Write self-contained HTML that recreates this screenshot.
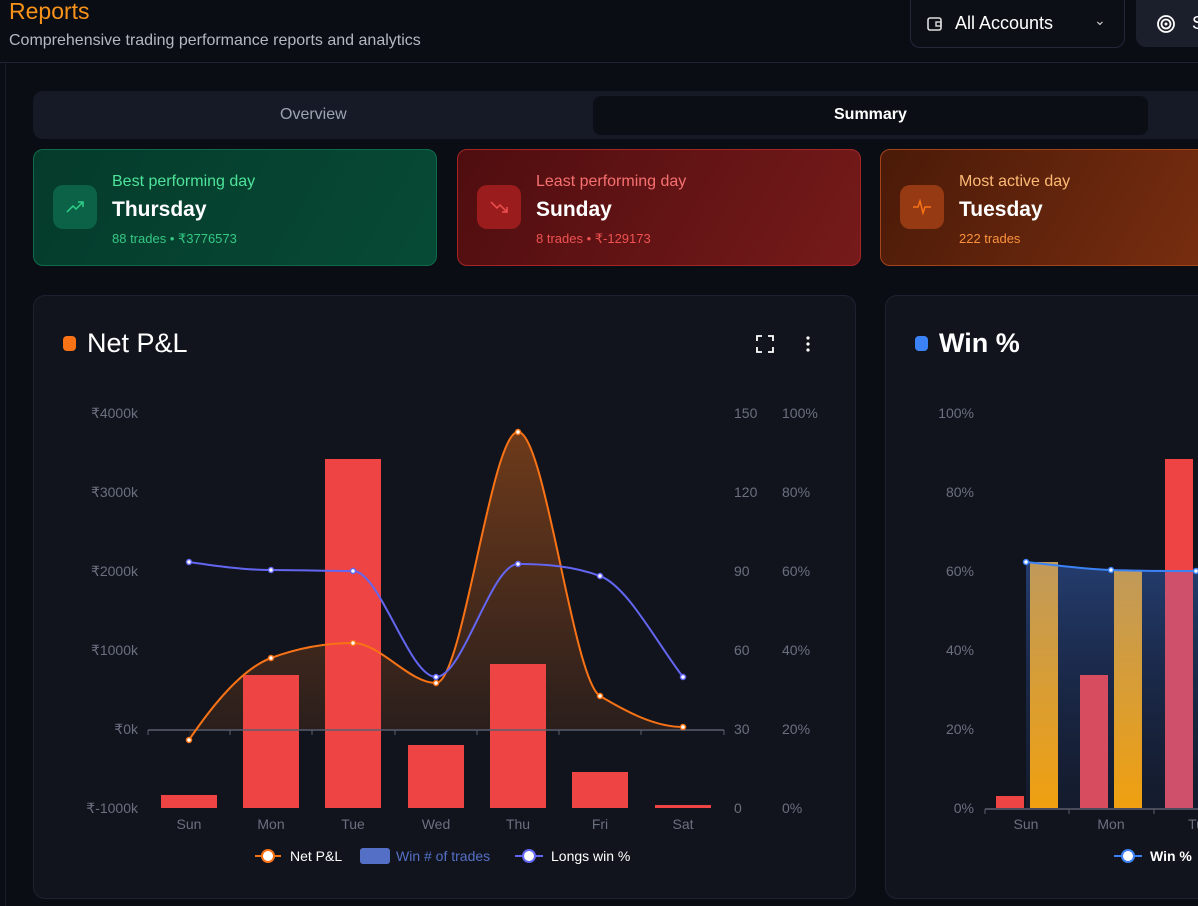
<!DOCTYPE html>
<html><head><meta charset="utf-8"><style>
*{margin:0;padding:0;box-sizing:border-box}
body{width:1198px;height:906px;background:#0b0d14;font-family:"Liberation Sans",sans-serif;overflow:hidden;position:relative;color:#fff}
.abs{position:absolute}
.card{position:absolute;top:149px;height:117px;border-radius:10px;}
.card .ic{position:absolute;left:19px;top:35px;width:44px;height:44px;border-radius:10px}
.card .t1{position:absolute;left:78px;top:23px;font-size:16px}
.card .t2{position:absolute;left:78px;top:48px;font-size:21px;font-weight:bold;color:#fff}
.card .t3{position:absolute;left:78px;top:81px;font-size:13px}
.panel{position:absolute;top:295px;height:604px;background:#11141d;border:1px solid #1e2230;border-radius:12px}
</style></head><body>
<div class="abs" style="left:9px;top:-2px;font-size:23px;color:#f7931a">Reports</div>
<div class="abs" style="left:9px;top:32px;font-size:16px;color:#b4b8c2">Comprehensive trading performance reports and analytics</div>
<div class="abs" style="left:910px;top:0;width:215px;height:48px;border:1px solid #23273a;border-top:none;border-radius:0 0 10px 10px;background:#0d0f17"></div>
<svg class="abs" style="left:926px;top:15px" width="18" height="18" viewBox="0 0 18 18"><rect x="2" y="3" width="13" height="12" rx="2" fill="none" stroke="#ddd" stroke-width="1.6"/><rect x="10" y="7" width="5" height="4" fill="none" stroke="#ddd" stroke-width="1.4"/></svg>
<div class="abs" style="left:955px;top:13px;font-size:18px;color:#fff">All Accounts</div>
<div class="abs" style="left:1094px;top:12px;font-size:14px;color:#ccc">&#8964;</div>
<div class="abs" style="left:1136px;top:0;width:70px;height:47px;border-radius:0 0 0 10px;background:#1b1f2b"></div>
<svg class="abs" style="left:1156px;top:14px" width="20" height="20"><circle cx="10" cy="10" r="8" fill="none" stroke="#fff" stroke-width="1.8"/><circle cx="10" cy="10" r="4.5" fill="none" stroke="#fff" stroke-width="1.8"/><circle cx="10" cy="10" r="1.5" fill="#fff"/></svg>
<div class="abs" style="left:1192px;top:13px;font-size:18px">S</div>
<div class="abs" style="left:0;top:62px;width:1198px;height:1px;background:#1f2332"></div>
<div class="abs" style="left:5px;top:63px;width:1px;height:843px;background:#1a1d29"></div>

<div class="abs" style="left:33px;top:91px;width:1180px;height:48px;background:#161a26;border-radius:10px"></div>
<div class="abs" style="left:593px;top:96px;width:555px;height:39px;background:#0c0e15;border-radius:8px"></div>
<div class="abs" style="left:280px;top:106px;font-size:16px;color:#9ca3b4">Overview</div>
<div class="abs" style="left:834px;top:106px;font-size:16px;color:#fff;font-weight:bold">Summary</div>

<div class="card" style="left:33px;width:404px;background:linear-gradient(120deg,#053b2b,#064a35);border:1px solid #0f6a4a">
<div class="ic" style="background:#0b6247"></div>
<svg class="abs" style="left:31px;top:47px" width="20" height="20"><polyline points="2,15 8,9 11,12 18,5" fill="none" stroke="#2fd08a" stroke-width="1.5"/><polyline points="13,5 18,5 18,10" fill="none" stroke="#2fd08a" stroke-width="1.5"/></svg>
<div class="t1" style="color:#4ee39a">Best performing day</div><div class="t2">Thursday</div><div class="t3" style="color:#35c985">88 trades • ₹3776573</div></div>
<div class="card" style="left:457px;width:404px;background:linear-gradient(120deg,#4f0d0f,#761a1a);border:1px solid #a32525">
<div class="ic" style="background:#9a1c1c"></div>
<svg class="abs" style="left:31px;top:47px" width="20" height="20"><polyline points="2,5 8,11 11,8 18,15" fill="none" stroke="#f05050" stroke-width="1.5"/><polyline points="13,15 18,15 18,10" fill="none" stroke="#f05050" stroke-width="1.5"/></svg>
<div class="t1" style="color:#f87171">Least performing day</div><div class="t2">Sunday</div><div class="t3" style="color:#f05252">8 trades • ₹-129173</div></div>
<div class="card" style="left:880px;width:340px;background:linear-gradient(120deg,#4a1a08,#7a2e10);border:1px solid #a3441a">
<div class="ic" style="background:#963a14"></div>
<svg class="abs" style="left:31px;top:47px" width="20" height="20"><polyline points="1,10 6,10 8,4 11,16 13,10 19,10" fill="none" stroke="#f97316" stroke-width="1.5"/></svg>
<div class="t1" style="color:#fdba74">Most active day</div><div class="t2">Tuesday</div><div class="t3" style="color:#fb923c">222 trades</div></div>

<div class="panel" style="left:33px;width:823px"></div>
<div class="panel" style="left:885px;width:340px"></div>
<div class="abs" style="left:63px;top:336px;width:13px;height:15px;border-radius:4px;background:#f97316"></div>
<div class="abs" style="left:87px;top:328px;font-size:27px;color:#fff">Net P&amp;L</div>
<div class="abs" style="left:915px;top:336px;width:13px;height:15px;border-radius:4px;background:#3b82f6"></div>
<div class="abs" style="left:939px;top:328px;font-size:27px;color:#fff;font-weight:bold">Win %</div>
<svg class="abs" style="left:756px;top:335px" width="18" height="18"><path d="M1 6V1H6M12 1H17V6M17 12V17H12M6 17H1V12" fill="none" stroke="#fff" stroke-width="1.8"/></svg>
<svg class="abs" style="left:804px;top:335px" width="8" height="18"><circle cx="4" cy="3" r="1.6" fill="#fff"/><circle cx="4" cy="9" r="1.6" fill="#fff"/><circle cx="4" cy="15" r="1.6" fill="#fff"/></svg>

<svg class="abs" style="left:0;top:0" width="1198" height="906" font-family="Liberation Sans, sans-serif">
<defs>
<linearGradient id="pf" x1="0" y1="0" x2="0" y2="1"><stop offset="0" stop-color="#f97316" stop-opacity="0.4"/><stop offset="1" stop-color="#f97316" stop-opacity="0.1"/></linearGradient>
<linearGradient id="bf" x1="0" y1="0" x2="0" y2="1"><stop offset="0" stop-color="#2a4a8a" stop-opacity="0.75"/><stop offset="1" stop-color="#1a2a50" stop-opacity="0.3"/></linearGradient>
<linearGradient id="of" x1="0" y1="0" x2="0" y2="1"><stop offset="0" stop-color="#c09a5a"/><stop offset="1" stop-color="#f0a010"/></linearGradient>
</defs>
<g font-size="14" fill="#6b7080">
<text x="138" y="418" text-anchor="end">₹4000k</text><text x="138" y="497" text-anchor="end">₹3000k</text><text x="138" y="576" text-anchor="end">₹2000k</text><text x="138" y="655" text-anchor="end">₹1000k</text><text x="138" y="734" text-anchor="end">₹0k</text><text x="138" y="813" text-anchor="end">₹-1000k</text>
<text x="734" y="418">150</text><text x="734" y="497">120</text><text x="734" y="576">90</text><text x="734" y="655">60</text><text x="734" y="734">30</text><text x="734" y="813">0</text>
<text x="782" y="418">100%</text><text x="782" y="497">80%</text><text x="782" y="576">60%</text><text x="782" y="655">40%</text><text x="782" y="734">20%</text><text x="782" y="813">0%</text>
<text x="189" y="829" text-anchor="middle">Sun</text><text x="271" y="829" text-anchor="middle">Mon</text><text x="353" y="829" text-anchor="middle">Tue</text><text x="436" y="829" text-anchor="middle">Wed</text><text x="518" y="829" text-anchor="middle">Thu</text><text x="600" y="829" text-anchor="middle">Fri</text><text x="683" y="829" text-anchor="middle">Sat</text>
<text x="974" y="418" text-anchor="end">100%</text><text x="974" y="497" text-anchor="end">80%</text><text x="974" y="576" text-anchor="end">60%</text><text x="974" y="655" text-anchor="end">40%</text><text x="974" y="734" text-anchor="end">20%</text><text x="974" y="813" text-anchor="end">0%</text>
<text x="1026" y="829" text-anchor="middle">Sun</text><text x="1111" y="829" text-anchor="middle">Mon</text><text x="1196" y="829" text-anchor="middle">Tu</text>
</g>
<path d="M189,740 C216,700 244,668 271,658 C298,648 326,643 353,643 C380,643 409,683 436,683 C463,683 491,432 518,432 C545,432 573,680 600,696 C627,712 655,727 683,727 L683,729 L189,729Z" fill="url(#pf)"/>
<g fill="#ef4444">
<rect x="161" y="795" width="56" height="13"/><rect x="243" y="675" width="56" height="133"/><rect x="325" y="459" width="56" height="349"/><rect x="408" y="745" width="56" height="63"/><rect x="490" y="664" width="56" height="144"/><rect x="572" y="772" width="56" height="36"/><rect x="655" y="805" width="56" height="3"/>
</g>
<line x1="148" y1="730" x2="724" y2="730" stroke="#5a5f6e" stroke-width="1.5"/>
<g stroke="#5a5f6e"><line x1="148" y1="730" x2="148" y2="735"/><line x1="230" y1="730" x2="230" y2="735"/><line x1="312" y1="730" x2="312" y2="735"/><line x1="395" y1="730" x2="395" y2="735"/><line x1="477" y1="730" x2="477" y2="735"/><line x1="559" y1="730" x2="559" y2="735"/><line x1="641" y1="730" x2="641" y2="735"/><line x1="724" y1="730" x2="724" y2="735"/></g>
<path d="M189,740 C216,700 244,668 271,658 C298,648 326,643 353,643 C380,643 409,683 436,683 C463,683 491,432 518,432 C545,432 573,680 600,696 C627,712 655,727 683,727" fill="none" stroke="#f97316" stroke-width="2"/>
<path d="M189,562 C216,566 244,570 271,570 C298,570 326,571 353,571 C380,571 409,677 436,677 C463,677 491,564 518,564 C545,564 573,566 600,576 C627,586 655,640 683,677" fill="none" stroke="#6366f1" stroke-width="2"/>
<g fill="#fff" stroke="#f97316" stroke-width="1.5"><circle cx="189" cy="740" r="2.5"/><circle cx="271" cy="658" r="2.5"/><circle cx="353" cy="643" r="2.5"/><circle cx="436" cy="683" r="2.5"/><circle cx="518" cy="432" r="2.5"/><circle cx="600" cy="696" r="2.5"/><circle cx="683" cy="727" r="2.5"/></g>
<g fill="#fff" stroke="#6366f1" stroke-width="1.5"><circle cx="189" cy="562" r="2.5"/><circle cx="271" cy="570" r="2.5"/><circle cx="353" cy="571" r="2.5"/><circle cx="436" cy="677" r="2.5"/><circle cx="518" cy="564" r="2.5"/><circle cx="600" cy="576" r="2.5"/><circle cx="683" cy="677" r="2.5"/></g>
<line x1="255" y1="856" x2="281" y2="856" stroke="#f97316" stroke-width="2"/><circle cx="268" cy="856" r="6" fill="#fff" stroke="#f97316" stroke-width="2"/>
<text x="290" y="861" font-size="14" fill="#fff">Net P&amp;L</text>
<rect x="360" y="848" width="30" height="16" rx="3" fill="#5470c6"/>
<text x="396" y="861" font-size="14" fill="#5470c6">Win # of trades</text>
<line x1="515" y1="856" x2="543" y2="856" stroke="#6366f1" stroke-width="2"/><circle cx="529" cy="856" r="6" fill="#fff" stroke="#6366f1" stroke-width="2"/>
<text x="551" y="861" font-size="14" fill="#fff">Longs win %</text>

<path d="M1026,562 C1054,565 1083,569 1111,570 C1140,571 1170,571 1198,571 L1198,808 L1026,808Z" fill="url(#bf)"/>
<rect x="996" y="796" width="28" height="12" fill="#ef4444"/>
<rect x="1030" y="562" width="28" height="246" fill="url(#of)"/>
<rect x="1080" y="675" width="28" height="133" fill="#d74c5e"/>
<rect x="1114" y="570" width="28" height="238" fill="url(#of)"/>
<rect x="1165" y="459" width="28" height="112" fill="#ef4444"/>
<rect x="1165" y="571" width="28" height="237" fill="#cf506a"/>
<line x1="985" y1="809" x2="1198" y2="809" stroke="#5a5f6e" stroke-width="1.5"/>
<g stroke="#5a5f6e"><line x1="985" y1="809" x2="985" y2="814"/><line x1="1069" y1="809" x2="1069" y2="814"/><line x1="1154" y1="809" x2="1154" y2="814"/></g>
<path d="M1026,562 C1054,565 1083,569 1111,570 C1140,571 1170,571 1198,571" fill="none" stroke="#3b82f6" stroke-width="2"/>
<g fill="#fff" stroke="#3b82f6" stroke-width="1.5"><circle cx="1026" cy="562" r="2.5"/><circle cx="1111" cy="570" r="2.5"/><circle cx="1196" cy="571" r="2.5"/></g>
<line x1="1114" y1="856" x2="1142" y2="856" stroke="#3b82f6" stroke-width="2"/><circle cx="1128" cy="856" r="6" fill="#fff" stroke="#3b82f6" stroke-width="2"/>
<text x="1150" y="861" font-size="14" fill="#fff" font-weight="bold">Win %</text>
</svg>
</body></html>
